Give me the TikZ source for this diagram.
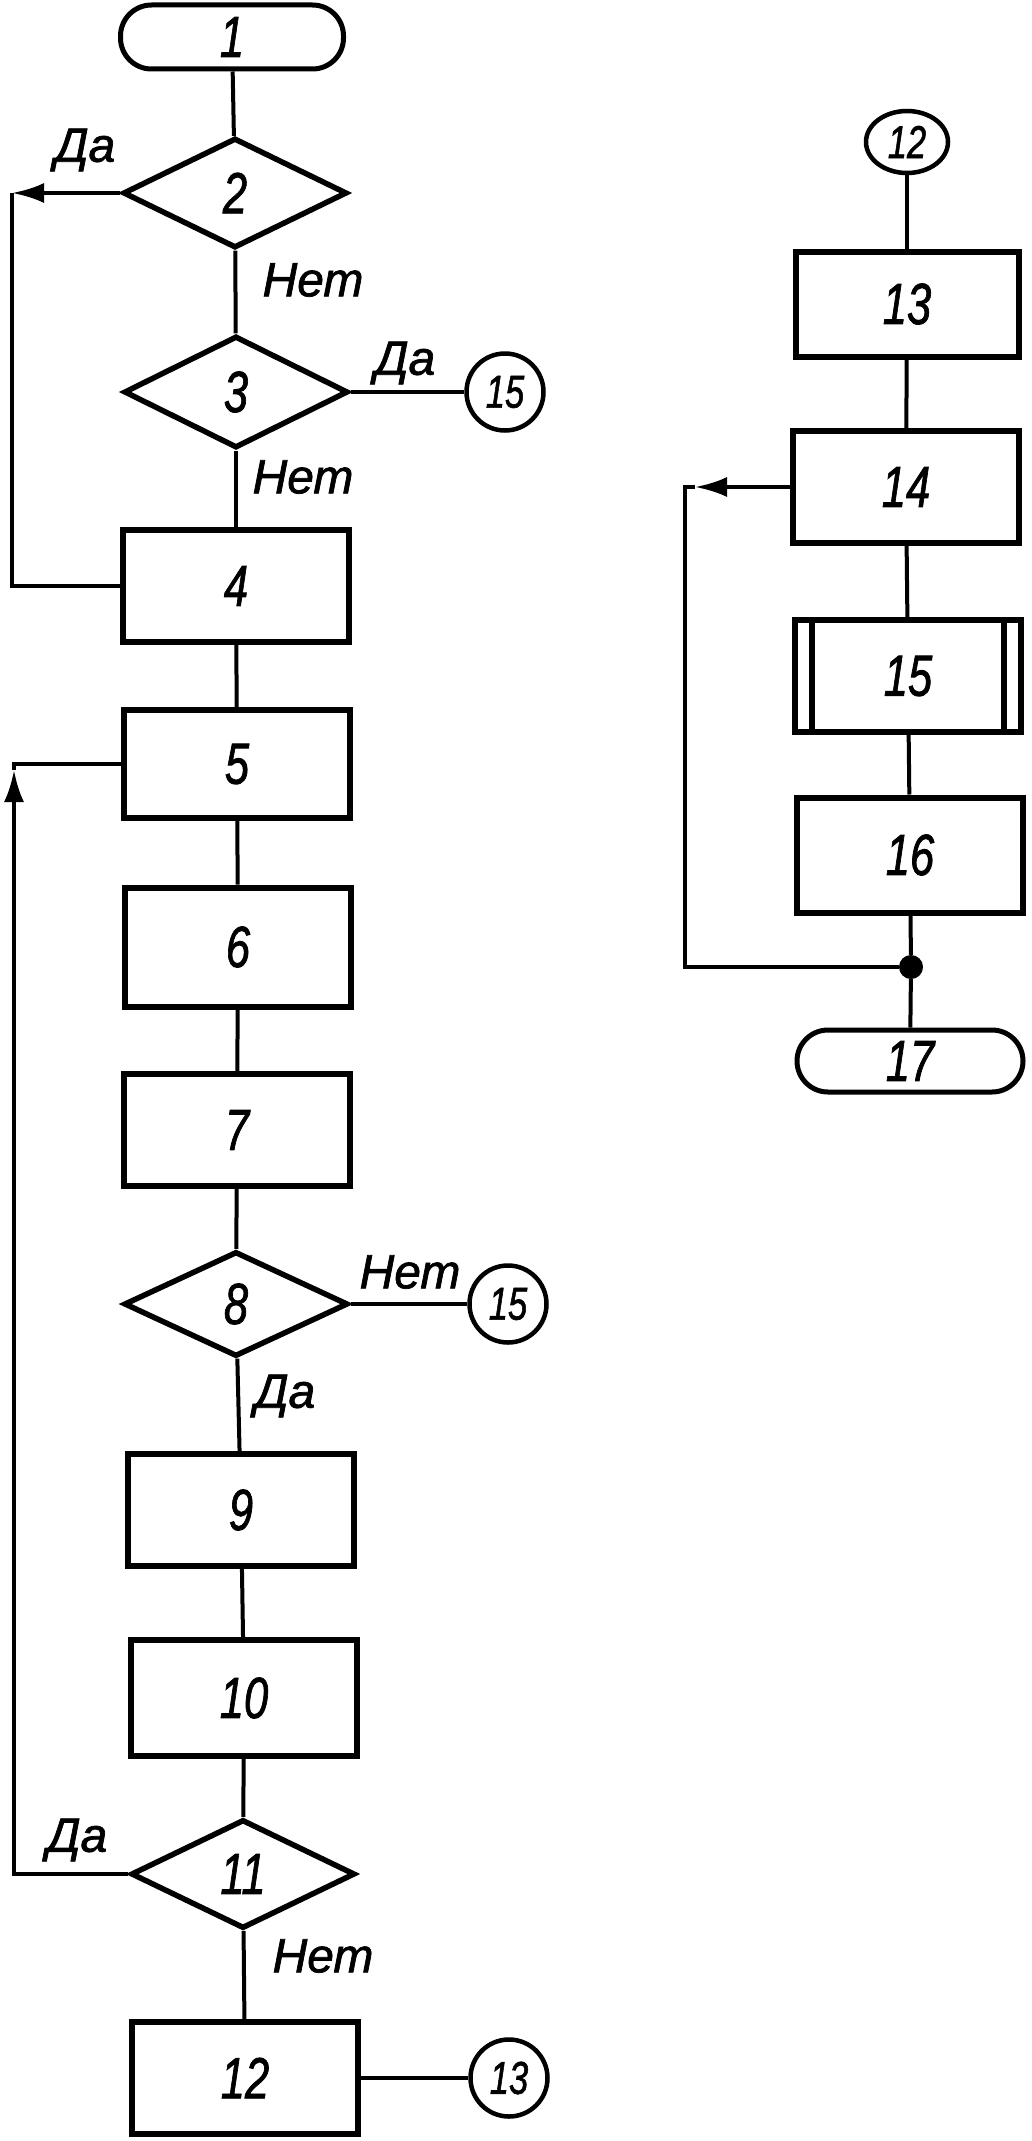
\documentclass[tikz,border=0pt]{standalone}
\usepackage{fontspec}
\setmainfont{Liberation Sans}[ItalicFeatures={FakeBold=1.5}]
\usetikzlibrary{shapes.geometric,arrows.meta}
\newcommand\nm[1]{\scalebox{0.75}[1]{\itshape #1}}
\begin{document}
\begin{tikzpicture}[x=1pt,y=-1pt,
  box/.style={draw,line width=6pt,minimum width=226pt,minimum height=112pt,inner sep=0pt,font=\fontsize{58}{58}\selectfont},
  term/.style={box,rounded corners=31pt,minimum width=223pt,minimum height=64pt,line width=5pt},
  dec/.style={draw,diamond,line width=5.5pt,inner sep=0pt,minimum width=224pt,minimum height=110pt,font=\fontsize{58}{58}\selectfont},
  conn/.style={draw,circle,line width=4.5pt,minimum size=77pt,inner sep=0pt,font=\fontsize{46}{46}\selectfont},
  ln/.style={line width=4pt},
  arr/.style={ln,-{Latex[length=32pt,width=20pt]}},
  lbl/.style={font=\fontsize{48}{48}\selectfont\itshape,inner sep=0pt}
]
\useasboundingbox (0,0) rectangle (1032,2141);
% left column
\node[term] (t1) at (232,37) {\nm{1}};
\node[dec] (d2) at (235,193) {\nm{2}};
\node[dec,minimum height=112pt] (d3) at (236,392) {\nm{3}};
\node[conn] (c15a) at (505,392) {\nm{15}};
\node[box] (b4) at (236,586) {\nm{4}};
\node[box,minimum height=108pt] (b5) at (237,764) {\nm{5}};
\node[box,minimum height=119pt] (b6) at (238,947) {\nm{6}};
\node[box] (b7) at (237,1130) {\nm{7}};
\node[dec,minimum height=105pt] (d8) at (236,1304) {\nm{8}};
\node[conn] (c15b) at (508,1304) {\nm{15}};
\node[box] (b9) at (241,1510) {\nm{9}};
\node[box,minimum height=116pt] (b10) at (244,1698) {\nm{10}};
\node[dec,minimum height=109pt] (d11) at (243,1874) {\nm{11}};
\node[box] (b12) at (245,2078) {\nm{12}};
\node[conn] (c13) at (509,2078) {\nm{13}};
% right column
\node[draw,ellipse,line width=4.5pt,minimum width=82pt,minimum height=62pt,inner sep=0pt,font=\fontsize{46}{46}\selectfont] (c12) at (907,142) {\nm{12}};
\node[box,minimum width=223pt,minimum height=105pt] (b13) at (907,304) {\nm{13}};
\node[box] (b14) at (906,487) {\nm{14}};
\node[box] (b15) at (908,676) {\nm{15}};
\draw[line width=6pt] ([xshift=20pt]b15.north west) -- ([xshift=20pt]b15.south west);
\draw[line width=6pt] ([xshift=-20pt]b15.north east) -- ([xshift=-20pt]b15.south east);
\node[box,minimum height=115pt] (b16) at (910,855) {\nm{16}};
\node[circle,fill,inner sep=0pt,minimum size=24pt] (dot) at (911,967) {};
\node[term,minimum width=226pt,minimum height=62pt] (t17) at (910,1061) {\nm{17}};
% labels
\node[lbl] (y2) at (85,150) {Да};
\node[lbl] (n2) at (313,280) {Нет};
\node[lbl] (y3) at (405,363) {Да};
\node[lbl] (n3) at (303,477) {Нет};
\node[lbl] (n8) at (410,1272) {Нет};
\node[lbl] (y8) at (285,1396) {Да};
\node[lbl] (y11) at (77,1840) {Да};
\node[lbl] (n11) at (323,1956) {Нет};
% connectors left
\draw[ln] (t1) -- (d2);
\draw[ln] (d2) -- (d3);
\draw[ln] (d3) -- (b4);
\draw[ln] (b4) -- (b5);
\draw[ln] (b5) -- (b6);
\draw[ln] (b6) -- (b7);
\draw[ln] (b7) -- (d8);
\draw[ln] (d8) -- (b9);
\draw[ln] (b9) -- (b10);
\draw[ln] (b10) -- (d11);
\draw[ln] (d11) -- (b12);
\draw[ln] (d3.east) -- (c15a);
\draw[ln] (d8.east) -- (c15b);
\draw[ln] (b12.east) -- (c13);
\coordinate (L1) at (12,193);
\draw[arr] (d2.west) -- (L1);
\draw[ln] (L1) |- (b4.west);
\coordinate (L2a) at (14,770);
\draw[arr] (d11.west) -| (L2a);
\draw[ln] (L2a) |- (b5.west);
% connectors right
\draw[ln] (c12) -- (b13);
\draw[ln] (b13) -- (b14);
\draw[ln] (b14) -- (b15);
\draw[ln] (b15) -- (b16);
\draw[ln] (b16) -- (dot);
\draw[ln] (dot) -- (t17);
\coordinate (R1a) at (695,487);
\coordinate (R1) at (685,487);
\draw[arr] (b14.west) -- (R1a);
\draw[ln] (R1a) -- (R1) |- (dot);
\end{tikzpicture}
\end{document}
